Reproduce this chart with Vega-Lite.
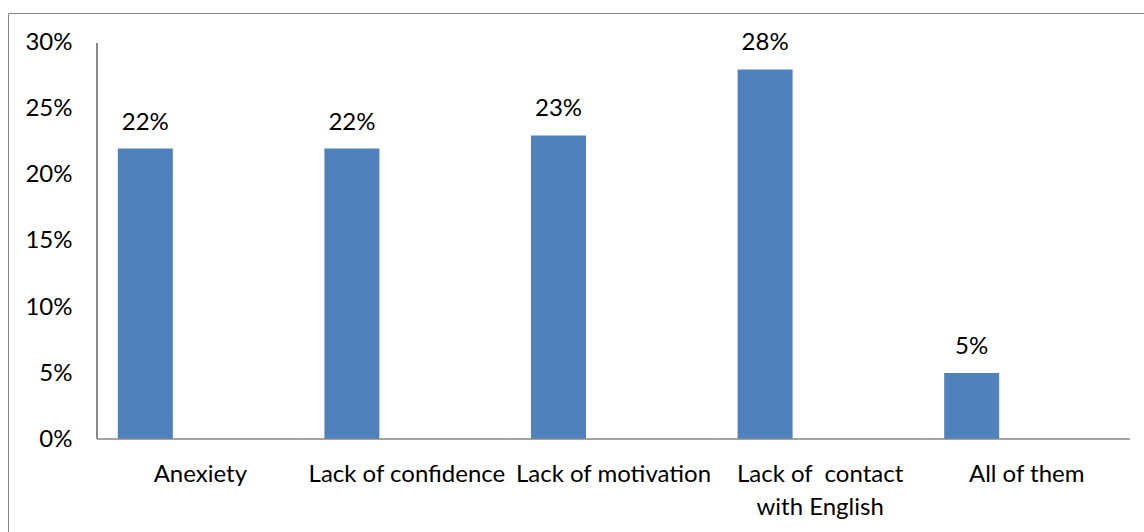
{
  "$schema": "https://vega.github.io/schema/vega-lite/v6.json",
  "width": 1139,
  "height": 522,
  "autosize": {"type": "none"},
  "padding": {"left": 8, "top": 13, "right": -3, "bottom": -3},
  "background": "white",
  "config": {
    "view": {"stroke": "#868686", "strokeWidth": 1},
    "font": "Lato",
    "axis": {"labelFont": "Lato", "labelColor": "#000000", "labelFontSize": 24}
  },
  "data": {
    "values": [
      {"category": "Anexiety", "value": 0.22},
      {"category": "Lack of confidence", "value": 0.22},
      {"category": "Lack of motivation", "value": 0.23},
      {"category": "Lack of  contact with English", "value": 0.28},
      {"category": "All of them", "value": 0.05}
    ]
  },
  "encoding": {
    "x": {
      "field": "category",
      "type": "nominal",
      "sort": null,
      "scale": {"paddingInner": 0, "paddingOuter": 0.2566, "align": 0.8396},
      "axis": {
        "orient": "bottom",
        "offset": -96,
        "title": null,
        "domain": false,
        "ticks": false,
        "tickSize": 0,
        "labelAngle": 0,
        "labelPadding": 23,
        "labelLimit": 0,
        "labelLineHeight": 33,
        "labelBaseline": "top",
        "labelExpr": "datum.label == 'Lack of  contact with English' ? ['Lack of\u00a0 contact', 'with English'] : datum.label"
      }
    }
  },
  "layer": [
    {
      "mark": {"type": "bar", "color": "#4F81BD"},
      "encoding": {
        "xOffset": {"datum": "a", "scale": {"domain": ["a", "b", "c"], "paddingInner": 0, "paddingOuter": 0.378}},
        "y": {
          "field": "value",
          "type": "quantitative",
          "scale": {"domain": [-0.072727, 0.322727], "nice": false, "zero": false},
          "axis": {
            "orient": "left",
            "offset": -89,
            "title": null,
            "domain": false,
            "ticks": false,
            "tickSize": 0,
            "grid": false,
            "values": [0, 0.05, 0.1, 0.15, 0.2, 0.25, 0.3],
            "format": ".0%",
            "labelPadding": 25
          }
        },
        "y2": {"datum": 0}
      }
    },
    {
      "mark": {"type": "text", "fontSize": 24, "font": "Lato", "color": "#000000", "baseline": "alphabetic", "dy": -19},
      "encoding": {
        "xOffset": {"datum": "a"},
        "y": {"field": "value", "type": "quantitative"},
        "text": {"field": "value", "type": "quantitative", "format": ".0%"}
      }
    },
    {
      "mark": {"type": "bar", "fill": null, "stroke": "#868686", "strokeWidth": 1},
      "encoding": {
        "y": {"datum": 0},
        "y2": {"datum": 0}
      }
    },
    {
      "mark": {"type": "rule", "color": "#868686", "strokeWidth": 1},
      "encoding": {
        "x": {"datum": "Anexiety", "bandPosition": 0},
        "y": {"datum": 0},
        "y2": {"datum": 0.3}
      }
    }
  ]
}
